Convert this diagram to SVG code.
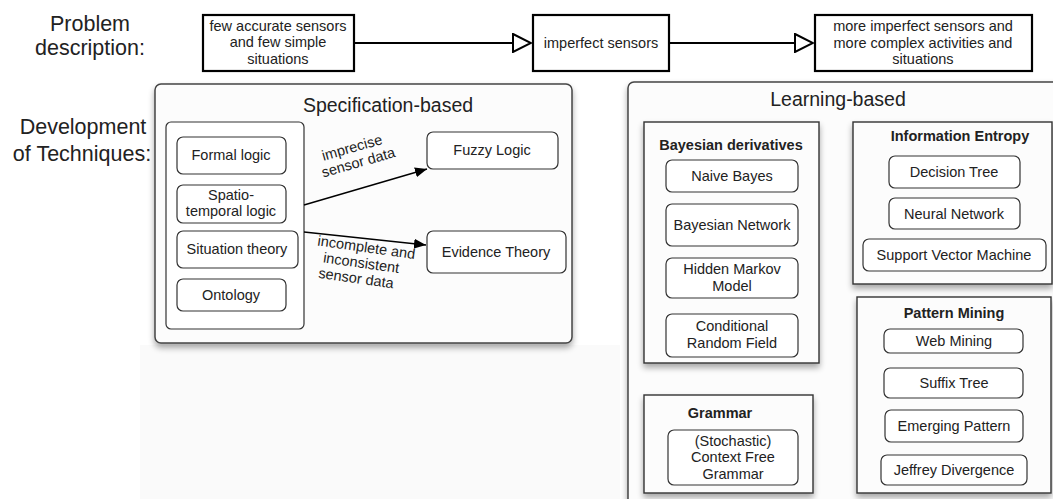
<svg xmlns="http://www.w3.org/2000/svg" width="1053" height="499" viewBox="0 0 1053 499">
<defs>
<filter id="sh" x="-10%" y="-10%" width="120%" height="125%">
<feGaussianBlur in="SourceAlpha" stdDeviation="3"/>
<feOffset dx="0" dy="4" result="b"/>
<feComponentTransfer><feFuncA type="linear" slope="0.35"/></feComponentTransfer>
<feMerge><feMergeNode/><feMergeNode in="SourceGraphic"/></feMerge>
</filter>
<marker id="hollow" viewBox="0 0 20 20" refX="19" refY="10" markerWidth="20" markerHeight="20" markerUnits="userSpaceOnUse" orient="auto">
<path d="M1,1 L19,10 L1,19 Z" fill="#fff" stroke="#000" stroke-width="2"/>
</marker>
<marker id="solid" viewBox="0 0 12 10" refX="12" refY="5" markerWidth="12" markerHeight="10" markerUnits="userSpaceOnUse" orient="auto">
<path d="M0,0 L12,5 L0,10 Z" fill="#000"/>
</marker>
</defs>
<style>
text{font-family:"Liberation Sans",Arial,sans-serif;fill:#222}
.lbl{font-size:21.5px;text-anchor:middle}
.t{font-size:14.5px;text-anchor:middle}
.b{font-size:14.5px;font-weight:bold;text-anchor:middle}
.big{font-size:19.5px;text-anchor:middle}
.pbox{fill:#fff;stroke:#000;stroke-width:2.2}
.outer{fill:#fcfcfc;stroke:#444;stroke-width:1.5}
.grp{fill:#fcfcfc;stroke:#333;stroke-width:1.4}
.item{fill:#fff;stroke:#333;stroke-width:1.2}
.edge{fill:none;stroke:#000;stroke-width:1.4}
.prob{fill:none;stroke:#000;stroke-width:2.2}
</style>
<rect width="1053" height="499" fill="#fff"/>
<rect x="140" y="345" width="480" height="154" fill="#fafafa"/>

<g id="labels">
<text class="lbl" x="90" y="31">Problem</text>
<text class="lbl" x="90" y="55">description:</text>
<text class="lbl" x="83" y="134">Development</text>
<text class="lbl" x="82" y="161">of Techniques:</text>
</g>

<g id="p1"><rect class="pbox" x="203" y="15" width="151" height="56"/>
<text class="t" x="278" y="31">few accurate sensors</text>
<text class="t" x="278" y="47">and few simple</text>
<text class="t" x="278" y="64">situations</text></g>
<g id="p2"><rect class="pbox" x="533" y="15" width="136" height="56"/>
<text class="t" x="601" y="48">imperfect sensors</text></g>
<g id="p3"><rect class="pbox" x="815" y="15" width="217" height="56"/>
<text class="t" x="923" y="31">more imperfect sensors and</text>
<text class="t" x="923" y="48">more complex activities and</text>
<text class="t" x="923" y="64">situations</text></g>

<g id="spec">
<rect class="outer" x="155" y="84" width="417" height="259" rx="6" filter="url(#sh)"/>
<text class="big" x="388" y="112">Specification-based</text>
<rect class="item" x="166" y="122" width="138" height="207" rx="5"/>
</g>
<g id="formal"><rect class="item" x="177" y="137" width="109" height="37" rx="6"/><text class="t" x="231" y="160">Formal logic</text></g>
<g id="spatio"><rect class="item" x="177" y="185" width="109" height="38" rx="6"/><text class="t" x="231" y="200">Spatio-</text><text class="t" x="231" y="216">temporal logic</text></g>
<g id="situation"><rect class="item" x="177" y="231" width="121" height="37" rx="6"/><text class="t" x="237" y="254">Situation theory</text></g>
<g id="ontology"><rect class="item" x="177" y="279" width="109" height="32" rx="6"/><text class="t" x="231" y="300">Ontology</text></g>
<g id="fuzzy"><rect class="item" x="427" y="132" width="131" height="37" rx="6"/><text class="t" x="492" y="155">Fuzzy Logic</text></g>
<g id="evidence"><rect class="item" x="427" y="231" width="139" height="42" rx="6"/><text class="t" x="496" y="257">Evidence Theory</text></g>

<g id="learn">
<rect class="outer" x="628" y="82" width="440" height="430" rx="6" filter="url(#sh)"/>
<text class="big" x="838" y="106">Learning-based</text>
</g>
<g id="bayes"><rect class="grp" x="644" y="122" width="175" height="241" filter="url(#sh)"/>
<text class="b" x="731" y="150">Bayesian derivatives</text></g>
<g id="naive"><rect class="item" x="666" y="160" width="132" height="32" rx="6"/><text class="t" x="732" y="181">Naive Bayes</text></g>
<g id="bnet"><rect class="item" x="666" y="204" width="132" height="42" rx="6"/><text class="t" x="732" y="230">Bayesian Network</text></g>
<g id="hmm"><rect class="item" x="666" y="258" width="132" height="40" rx="6"/><text class="t" x="732" y="274">Hidden Markov</text><text class="t" x="732" y="291">Model</text></g>
<g id="crf"><rect class="item" x="666" y="314" width="132" height="43" rx="6"/><text class="t" x="732" y="331">Conditional</text><text class="t" x="732" y="348">Random Field</text></g>

<g id="grammar"><rect class="grp" x="644" y="395" width="169" height="98" filter="url(#sh)"/>
<text class="b" x="720" y="418">Grammar</text></g>
<g id="cfg"><rect class="item" x="668" y="430" width="130" height="55" rx="6"/><text class="t" x="733" y="446">(Stochastic)</text><text class="t" x="733" y="462">Context Free</text><text class="t" x="733" y="479">Grammar</text></g>

<g id="entropy"><rect class="grp" x="853" y="122" width="199" height="162" filter="url(#sh)"/>
<text class="b" x="960" y="141">Information Entropy</text></g>
<g id="dtree"><rect class="item" x="889" y="156" width="131" height="32" rx="6"/><text class="t" x="954" y="177">Decision Tree</text></g>
<g id="nn"><rect class="item" x="889" y="198" width="131" height="31" rx="6"/><text class="t" x="954" y="219">Neural Network</text></g>
<g id="svm"><rect class="item" x="863" y="239" width="183" height="32" rx="6"/><text class="t" x="954" y="260">Support Vector Machine</text></g>

<g id="pattern"><rect class="grp" x="857" y="297" width="194" height="196" filter="url(#sh)"/>
<text class="b" x="954" y="318">Pattern Mining</text></g>
<g id="web"><rect class="item" x="884" y="329" width="139" height="24" rx="6"/><text class="t" x="954" y="346">Web Mining</text></g>
<g id="suffix"><rect class="item" x="884" y="368" width="139" height="30" rx="6"/><text class="t" x="954" y="388">Suffix Tree</text></g>
<g id="emerging"><rect class="item" x="885" y="410" width="138" height="32" rx="6"/><text class="t" x="954" y="431">Emerging Pattern</text></g>
<g id="jeffrey"><rect class="item" x="881" y="455" width="146" height="30" rx="6"/><text class="t" x="954" y="475">Jeffrey Divergence</text></g>

<g id="connectors">
<line class="prob" x1="354" y1="43" x2="531" y2="43" marker-end="url(#hollow)"/>
<line class="prob" x1="669" y1="43" x2="813" y2="43" marker-end="url(#hollow)"/>
<line class="edge" x1="304" y1="205" x2="427" y2="169" marker-end="url(#solid)"/>
<line class="edge" x1="304" y1="232" x2="426" y2="245" marker-end="url(#solid)"/>
<g transform="rotate(-16 355 158)">
<text class="t" x="355" y="152">imprecise</text>
<text class="t" x="357" y="168">sensor data</text>
</g>
<g transform="rotate(8 363 265)">
<text class="t" x="364" y="252">incomplete and</text>
<text class="t" x="361" y="268">inconsistent</text>
<text class="t" x="358" y="284">sensor data</text>
</g>
</g>
</svg>
